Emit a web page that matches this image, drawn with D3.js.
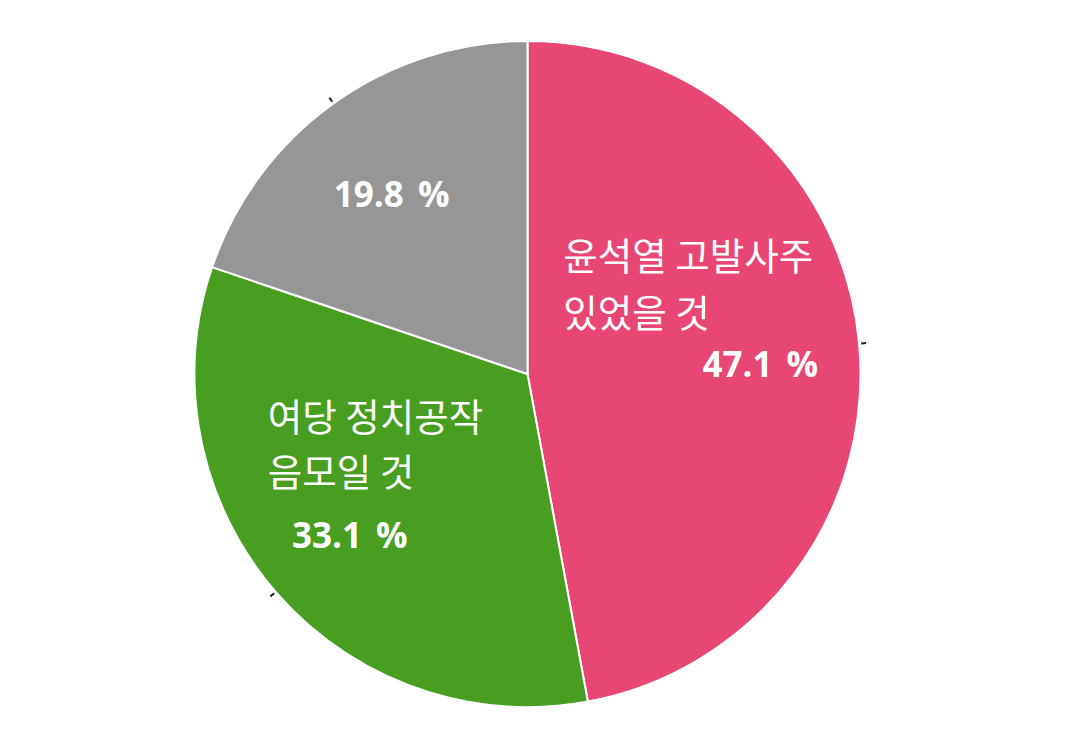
<!DOCTYPE html>
<html><head><meta charset="utf-8">
<script src="https://cdn.jsdelivr.net/npm/d3@7"></script>
<style>html,body{margin:0;padding:0;background:#fff;}svg{display:block;}</style>
</head><body>
<svg id="chart" width="1072" height="740"></svg>
<script>
const categories = ["윤석열 고발사주 있었을 것", "여당 정치공작 음모일 것", "모름/무응답"];
const labelLines = [["윤석열 고발사주", "있었을 것"], ["여당 정치공작", "음모일 것"], []];
const values = [47.1, 33.1, 19.8];
const colors = ["#E84674", "#479E20", "#969696"];

const W = 1072, H = 740;
const cx = 527.5, cy = 374, R = 333;
const svg = d3.select("#chart");
const g = svg.append("g").attr("transform", `translate(${cx},${cy})`);

const pie = d3.pie().sort(null).value(d => d)(values);
const arc = d3.arc().innerRadius(0).outerRadius(R);

g.selectAll("path.slice").data(pie).join("path")
  .attr("class", "slice")
  .attr("d", arc)
  .attr("fill", (d, i) => colors[i])
  .attr("stroke", "#fff").attr("stroke-width", 2);

// small leader ticks
const tIn = d3.arc().innerRadius(R + 2).outerRadius(R + 2);
const tOut = d3.arc().innerRadius(R + 7).outerRadius(R + 7);
g.selectAll("line.tick").data(pie).join("line")
  .attr("class", "tick")
  .attr("x1", d => tIn.centroid(d)[0]).attr("y1", d => tIn.centroid(d)[1])
  .attr("x2", d => tOut.centroid(d)[0]).attr("y2", d => tOut.centroid(d)[1])
  .attr("stroke", "#222").attr("stroke-width", 2);

// percent labels
const pctArc = d3.arc().innerRadius(R * 0.69).outerRadius(R * 0.69);
const pctOffsets = [[4, 10], [-4, 10], [-2, 6]];
g.selectAll("text.pct").data(pie).join("text")
  .attr("class", "pct")
  .attr("x", (d, i) => pctArc.centroid(d)[0] + pctOffsets[i][0])
  .attr("y", (d, i) => pctArc.centroid(d)[1] + pctOffsets[i][1])
  .attr("text-anchor", "middle").attr("dominant-baseline", "central")
  .attr("font-family", "'Open Sans', 'Noto Sans', sans-serif")
  .attr("font-weight", "bold").attr("font-size", 35)
  .attr("word-spacing", 5)
  .attr("fill", "#fff")
  .text(d => d.value.toFixed(1) + " %");

// category text blocks (left-aligned, above the percent)
const textOffsets = [[-197, -110], [-82, -120]];
const lineGaps = [57, 55];
pie.forEach((d, i) => {
  if (!labelLines[i].length) return;
  const c = pctArc.centroid(d);
  const x0 = c[0] + pctOffsets[i][0] + textOffsets[i][0];
  const t = g.append("text")
    .attr("font-family", "'Noto Sans CJK KR', sans-serif")
    .attr("font-size", 37.5).attr("fill", "#fff")
    .attr("x", x0)
    .attr("y", c[1] + pctOffsets[i][1] + textOffsets[i][1]);
  labelLines[i].forEach((ln, k) => {
    t.append("tspan")
      .attr("x", x0)
      .attr("dy", k === 0 ? 0 : lineGaps[i])
      .attr("dominant-baseline", "central")
      .text(ln);
  });
});
</script>
</body></html>
